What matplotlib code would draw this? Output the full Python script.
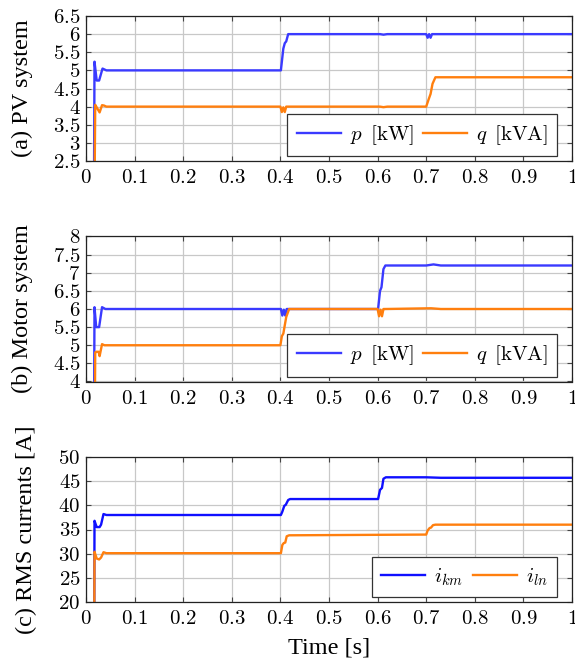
import numpy as np
import matplotlib
matplotlib.use("Agg")
import matplotlib.pyplot as plt
from matplotlib.ticker import FuncFormatter, MultipleLocator

plt.rcParams['font.family'] = ['Liberation Serif', 'DejaVu Serif']
plt.rcParams['mathtext.fontset'] = 'cm'

# (a) PV system
pv_p_t = [0.0165, 0.0175, 0.022, 0.027, 0.034, 0.042, 0.401, 0.406, 0.409, 0.412, 0.416,
          0.605, 0.612, 0.620, 0.700, 0.703, 0.706, 0.709, 0.712, 0.715, 1.0]
pv_p = [2.0, 5.24, 4.72, 4.72, 5.05, 5.0, 5.0, 5.6, 5.75, 5.8, 6.0,
        6.0, 5.985, 6.0, 6.0, 5.9, 6.0, 5.9, 6.0, 6.0, 6.0]
pv_q_t = [0.0165, 0.019, 0.022, 0.028, 0.033, 0.037, 0.042, 0.400, 0.403, 0.406, 0.409,
          0.412, 0.605, 0.612, 0.620, 0.700, 0.705, 0.709, 0.713, 0.719, 1.0]
pv_q = [0.0, 4.05, 3.98, 3.84, 4.04, 4.03, 4.0, 4.0, 3.85, 3.98, 3.85,
        4.0, 4.0, 3.985, 4.0, 4.0, 4.2, 4.35, 4.63, 4.81, 4.81]

# (b) Motor system
motor_p_t = [0.0165, 0.0175, 0.021, 0.027, 0.033, 0.040, 0.401, 0.404, 0.407, 0.410, 0.413,
             0.416, 0.601, 0.605, 0.608, 0.612, 0.616, 0.700, 0.715, 0.730, 1.0]
motor_p = [3.0, 6.05, 5.5, 5.5, 6.05, 6.0, 6.0, 5.82, 5.98, 5.82, 6.0,
           6.0, 6.0, 6.5, 6.6, 7.1, 7.2, 7.2, 7.23, 7.2, 7.2]
motor_q_t = [0.0165, 0.019, 0.021, 0.026, 0.028, 0.033, 0.038, 0.400, 0.403, 0.406, 0.409,
             0.412, 0.418, 0.600, 0.603, 0.606, 0.609, 0.612, 0.615, 0.710, 0.730, 1.0]
motor_q = [0.0, 4.8, 4.82, 4.82, 4.7, 5.03, 5.0, 5.0, 5.25, 5.32, 5.55,
           5.78, 6.0, 6.0, 5.8, 5.98, 5.8, 6.0, 6.0, 6.02, 6.0, 6.0]

# (c) RMS currents
cur_km_t = [0.0165, 0.0175, 0.022, 0.028, 0.031, 0.036, 0.042, 0.401, 0.404, 0.408, 0.411,
            0.416, 0.420, 0.601, 0.605, 0.609, 0.612, 0.617, 0.700, 0.730, 1.0]
cur_km = [0.0, 36.8, 35.5, 35.5, 36.0, 38.2, 38.0, 38.0, 38.7, 39.9, 40.1,
          41.1, 41.3, 41.3, 43.2, 43.6, 45.5, 45.8, 45.8, 45.7, 45.7]
cur_ln_t = [0.0165, 0.0175, 0.022, 0.027, 0.031, 0.036, 0.042, 0.401, 0.404, 0.407, 0.410,
            0.413, 0.418, 0.600, 0.700, 0.703, 0.707, 0.710, 0.714, 0.719, 1.0]
cur_ln = [0.0, 30.4, 29.0, 28.8, 29.2, 30.3, 30.1, 30.1, 31.8, 32.2, 32.3,
          33.6, 33.8, 33.9, 33.95, 34.8, 35.3, 35.4, 35.9, 36.0, 36.0]

blue = '#3a3aff'
orange = '#ff7f0e'

fig = plt.figure(figsize=(5.75, 6.6), dpi=100)
W = 486 / 575
H = 145 / 660
ax_a = fig.add_axes([86 / 575, 1 - 161 / 660, W, H])
ax_b = fig.add_axes([86 / 575, 1 - 381.5 / 660, W, H])
ax_c = fig.add_axes([86 / 575, 1 - 602 / 660, W, H])

ax_a.plot(pv_p_t, pv_p, color=blue, lw=1.7, label=r'$p\ \,[\mathrm{kW}]$')
ax_a.plot(pv_q_t, pv_q, color=orange, lw=1.7, label=r'$q\ \,[\mathrm{kVA}]$')
ax_a.set_ylim(2.5, 6.5)
ax_a.yaxis.set_major_locator(MultipleLocator(0.5))
ax_a.set_ylabel('(a) PV system', fontsize=17.5)
ax_a.yaxis.set_label_coords(-0.11, 0.5)

ax_b.plot(motor_p_t, motor_p, color=blue, lw=1.7, label=r'$p\ \,[\mathrm{kW}]$')
ax_b.plot(motor_q_t, motor_q, color=orange, lw=1.7, label=r'$q\ \,[\mathrm{kVA}]$')
ax_b.set_ylim(4, 8)
ax_b.yaxis.set_major_locator(MultipleLocator(0.5))
ax_b.set_ylabel('(b) Motor system', fontsize=17.5)
ax_b.yaxis.set_label_coords(-0.11, 0.5)

ax_c.plot(cur_km_t, cur_km, color='#1010ff', lw=1.7, label=r'$i_{km}$')
ax_c.plot(cur_ln_t, cur_ln, color=orange, lw=1.7, label=r'$i_{ln}$')
ax_c.set_ylim(20, 50)
ax_c.yaxis.set_major_locator(MultipleLocator(5))
ax_c.set_ylabel('(c) RMS currents [A]', fontsize=17.5)
ax_c.yaxis.set_label_coords(-0.10, 0.5)
ax_c.set_xlabel('Time [s]', fontsize=17.5)
ax_c.xaxis.set_label_coords(0.5, -0.245)

fmt = FuncFormatter(lambda v, pos: f'${v:g}$')
for ax in (ax_a, ax_b, ax_c):
    ax.set_xlim(0, 1)
    ax.xaxis.set_major_locator(MultipleLocator(0.1))
    ax.xaxis.set_major_formatter(fmt)
    ax.yaxis.set_major_formatter(fmt)
    ax.grid(True, color='#c8c8c8', lw=0.9)
    ax.set_axisbelow(True)
    ax.tick_params(direction='in', length=3.5, width=0.8, color='#444444',
                   top=True, right=True, labelsize=15)
    ax.tick_params(axis='x', pad=6)
    ax.tick_params(axis='y', pad=4)
    for s in ax.spines.values():
        s.set_color('#222222')
        s.set_linewidth(0.9)
    leg = ax.legend(loc='lower right', bbox_to_anchor=(0.97, 0.034), borderaxespad=0,
                    ncol=2, fontsize=15, handlelength=2.1, handletextpad=0.45,
                    columnspacing=0.45, borderpad=0.45, fancybox=False, framealpha=1)
    leg.get_frame().set_edgecolor('#333333')
    leg.get_frame().set_linewidth(0.9)

fig.savefig('out.png', dpi=100)
